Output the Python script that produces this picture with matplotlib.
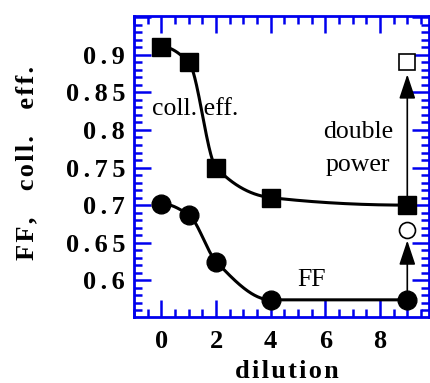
import numpy as np
import matplotlib
matplotlib.use("Agg")
import matplotlib.pyplot as plt
from matplotlib.ticker import MultipleLocator, FuncFormatter

# measured values
dilution = [0, 1, 2, 4, 9]
coll_eff = [0.911, 0.890, 0.750, 0.710, 0.700]
ff = [0.702, 0.687, 0.625, 0.574, 0.574]

# same cell at double illumination power
dp_x = 9
dp_coll_eff = 0.890
dp_ff = 0.667

BLUE = "#0000ee"
HAIR = "\u200a"


def pchip(x, y, xs):
    # monotone cubic through the points, used only for the guide curves
    x = np.asarray(x, float)
    y = np.asarray(y, float)
    h = np.diff(x)
    d = np.diff(y) / h
    n = len(x)
    m = np.zeros(n)
    for k in range(1, n - 1):
        if d[k - 1] * d[k] > 0:
            w1 = 2 * h[k] + h[k - 1]
            w2 = h[k] + 2 * h[k - 1]
            m[k] = (w1 + w2) / (w1 / d[k - 1] + w2 / d[k])

    def end(h0, h1, d0, d1):
        s = ((2 * h0 + h1) * d0 - h0 * d1) / (h0 + h1)
        if np.sign(s) != np.sign(d0):
            return 0.0
        if np.sign(d0) != np.sign(d1) and abs(s) > abs(3 * d0):
            return 3 * d0
        return s

    m[0] = end(h[0], h[1], d[0], d[1])
    m[-1] = end(h[-1], h[-2], d[-1], d[-2])
    xs = np.asarray(xs, float)
    i = np.clip(np.searchsorted(x, xs) - 1, 0, n - 2)
    t = (xs - x[i]) / h[i]
    h00 = 2 * t**3 - 3 * t**2 + 1
    h10 = t**3 - 2 * t**2 + t
    h01 = -2 * t**3 + 3 * t**2
    h11 = t**3 - t**2
    return h00 * y[i] + h10 * h[i] * m[i] + h01 * y[i + 1] + h11 * h[i] * m[i + 1]


def spaced(s, gap=HAIR):
    # letter-spaced label text
    return " ".join(gap.join(w) for w in s.split(" "))


plt.rcParams["font.family"] = ["Liberation Serif", "DejaVu Serif"]

fig = plt.figure(figsize=(4.3, 3.83), dpi=100)
ax = fig.add_axes([0.312, 0.172, 0.686, 0.787])

xs = np.linspace(dilution[0], dilution[-1], 400)
ax.plot(xs, pchip(dilution, coll_eff, xs), color="black", lw=2.2, zorder=2)
ax.plot(xs, pchip(dilution, ff, xs), color="black", lw=2.2, zorder=2)
ax.plot(dilution, coll_eff, "s", color="black", ms=13, zorder=3)
ax.plot(dilution, ff, "o", color="black", ms=13.5, zorder=3)

ax.plot([dp_x], [dp_coll_eff], "s", mfc="white", mec="black", mew=1.2, ms=11.5, zorder=3)
ax.plot([dp_x], [dp_ff], "o", mfc="white", mec="black", mew=1.2, ms=11.5, zorder=3)

arrow = dict(arrowstyle="-|>,head_length=1.5,head_width=0.5", color="black",
             lw=1.2, shrinkA=0, shrinkB=0)
ax.annotate("", xy=(dp_x, dp_coll_eff - 0.016), xytext=(dp_x, coll_eff[-1] + 0.01),
            arrowprops=arrow, zorder=2)
ax.annotate("", xy=(dp_x, dp_ff - 0.014), xytext=(dp_x, ff[-1] + 0.012),
            arrowprops=arrow, zorder=2)

ax.text(-0.33, 0.828, "coll. eff.", fontsize=18.5, ha="left", va="center")
ax.text(7.2, 0.797, "double", fontsize=18.5, ha="center", va="center")
ax.text(7.2, 0.753, "power", fontsize=18.5, ha="center", va="center")
ax.text(5.5, 0.600, "FF", fontsize=18.5, ha="center", va="center")

ax.set_xlim(-1.0, 9.8)
ax.set_ylim(0.551, 0.952)

ax.xaxis.set_major_locator(MultipleLocator(2))
ax.xaxis.set_minor_locator(MultipleLocator(0.5))
ax.yaxis.set_major_locator(MultipleLocator(0.05))
ax.yaxis.set_minor_locator(MultipleLocator(0.01))

ax.xaxis.set_major_formatter(FuncFormatter(lambda v, p: f"{v:g}" if 0 <= v <= 8 else ""))
ax.yaxis.set_major_formatter(FuncFormatter(
    lambda v, p: spaced(f"{v:.2f}".rstrip("0"), HAIR * 2) if 0.59 <= v <= 0.91 else ""))

for side in ax.spines.values():
    side.set_color(BLUE)
    side.set_linewidth(2.0)

ax.tick_params(which="both", direction="in", top=True, right=True, color=BLUE, width=1.8)
ax.tick_params(which="major", length=12)
ax.tick_params(which="minor", length=6)
ax.tick_params(axis="y", which="major", pad=6.5, labelsize=19)
ax.tick_params(axis="x", which="major", pad=9, labelsize=19)
for lab in ax.get_xticklabels() + ax.get_yticklabels():
    lab.set_fontweight("bold")

fig.text(0.667, 0.029, spaced("dilution"), fontsize=19, fontweight="bold",
         ha="center", va="center")
fig.text(0.063, 0.574, spaced("FF,    coll.    eff."), fontsize=19, fontweight="bold",
         rotation=90, ha="center", va="center")

fig.savefig("out.png", dpi=100)
